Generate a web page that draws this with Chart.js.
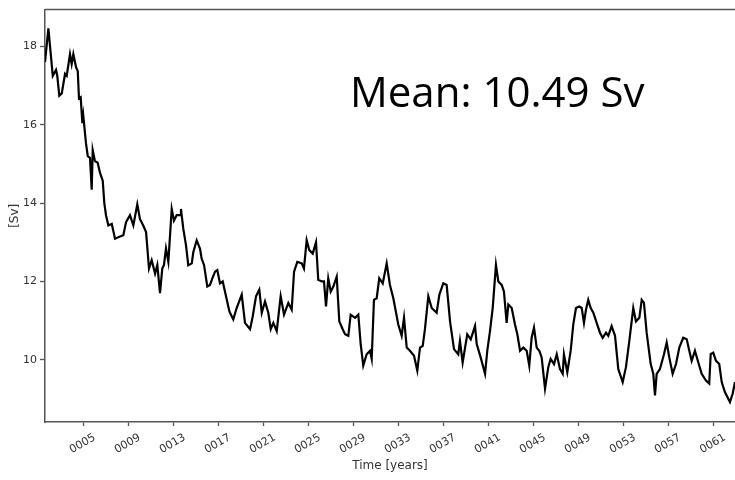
<!DOCTYPE html>
<html>
<head>
<meta charset="utf-8">
<script src="https://cdn.jsdelivr.net/npm/chart.js@4/dist/chart.umd.min.js"></script>
<style>
  html, body { margin: 0; padding: 0; background: #fff; }
  #wrap { position: relative; width: 735px; height: 480px; }
</style>
</head>
<body>
<div id="wrap"><canvas id="c" width="735" height="480"></canvas></div>
<script>
// Transport time series: model year (fractional) and volume transport in Sv
const years = [
  1.56, 1.86, 2.25, 2.54, 2.65, 2.83, 3.05, 3.34, 3.49, 3.78, 3.93, 4.08, 4.32, 4.47, 4.58, 4.73, 4.88, 4.96,
  5.20, 5.36, 5.56, 5.71, 5.80, 6.00, 6.24, 6.45, 6.69, 6.83, 6.98, 7.19, 7.49, 7.78, 8.07, 8.52, 8.76,
  9.11, 9.41, 9.76, 10.00, 10.30, 10.54, 10.80, 11.04, 11.34, 11.54, 11.78, 11.98, 12.13, 12.31, 12.52,
  12.82, 13.02, 13.26, 13.56, 13.64, 13.85, 14.09, 14.29, 14.60, 14.74, 15.04, 15.33, 15.48, 15.69, 15.98,
  16.22, 16.43, 16.67, 16.87, 17.11, 17.35, 17.55, 17.94, 18.00, 18.29, 18.59, 19.04, 19.33, 19.78, 20.02,
  20.31, 20.60, 20.82, 21.11, 21.40, 21.62, 21.85, 22.15, 22.50, 22.80, 23.18, 23.48, 23.69, 23.98, 24.37,
  24.57, 24.81, 25.04, 25.35, 25.64, 25.84, 26.15, 26.35, 26.53, 26.73, 26.95, 27.18, 27.48, 27.71, 28.01,
  28.22, 28.51, 28.72, 29.11, 29.40, 29.61, 29.84, 30.14, 30.44, 30.59, 30.79, 31.03, 31.26, 31.57, 31.92,
  32.21, 32.51, 32.95, 33.25, 33.46, 33.70, 33.99, 34.35, 34.64, 34.88, 35.12, 35.32, 35.62, 35.92, 36.36,
  36.60, 36.95, 37.25, 37.55, 37.90, 38.28, 38.43, 38.67, 39.08, 39.39, 39.77, 39.92, 40.27, 40.66, 40.86,
  41.10, 41.34, 41.63, 41.84, 42.14, 42.34, 42.58, 42.73, 43.03, 43.32, 43.53, 43.77, 44.06, 44.36, 44.59,
  44.80, 45.01, 45.25, 45.48, 45.69, 45.99, 46.28, 46.49, 46.79, 47.03, 47.32, 47.56, 47.67, 47.97, 48.27,
  48.50, 48.74, 49.03, 49.25, 49.45, 49.63, 49.83, 50.05, 50.28, 50.58, 50.87, 51.11, 51.41, 51.61, 51.91,
  52.21, 52.50, 52.89, 53.18, 53.48, 53.83, 54.07, 54.37, 54.58, 54.78, 55.02, 55.38, 55.61, 55.76, 55.91,
  56.20, 56.56, 56.80, 57.03, 57.33, 57.63, 57.92, 58.27, 58.58, 58.81, 59.02, 59.31, 59.61, 59.91, 60.29,
  60.58, 60.71, 60.94, 61.18, 61.47, 61.69, 61.98, 62.42, 62.66, 62.87
];
const transport = [
  17.60, 18.46, 17.25, 17.40, 17.25, 16.74, 16.80, 17.30, 17.25, 17.80, 17.55, 17.80, 17.47, 17.37, 16.67, 16.70, 16.04, 16.24,
  15.53, 15.20, 15.15, 14.34, 15.35, 15.07, 15.03, 14.77, 14.57, 14.00, 13.69, 13.43, 13.47, 13.09, 13.13, 13.18, 13.51,
  13.69, 13.43, 13.97, 13.59, 13.42, 13.26, 12.33, 12.54, 12.20, 12.42, 11.70, 12.33, 12.42, 12.84, 12.50,
  13.85, 13.55, 13.69, 13.69, 13.85, 13.34, 12.92, 12.41, 12.46, 12.75, 13.05, 12.84, 12.58, 12.42, 11.87,
  11.91, 12.08, 12.25, 12.29, 11.95, 12.00, 11.74, 11.24, 11.20, 11.03, 11.32, 11.66, 10.94, 10.78, 11.11,
  11.62, 11.79, 11.20, 11.49, 11.20, 10.78, 10.94, 10.73, 11.62, 11.15, 11.45, 11.28, 12.25, 12.50, 12.46,
  12.33, 13.05, 12.80, 12.71, 13.00, 12.04, 12.00, 12.00, 11.36, 12.08, 11.74, 11.87, 12.12, 10.98, 10.78,
  10.65, 10.61, 11.15, 11.07, 11.15, 10.40, 9.85, 10.14, 10.23, 10.02, 11.53, 11.57, 12.08, 11.95, 12.46,
  11.91, 11.57, 10.90, 10.61, 11.07, 10.31, 10.23, 10.10, 9.72, 10.31, 10.35, 10.78, 11.62, 11.32, 11.20,
  11.66, 11.95, 11.91, 10.98, 10.27, 10.14, 10.48, 9.93, 10.65, 10.52, 10.86, 10.40, 10.06, 9.64, 10.23,
  10.73, 11.32, 12.42, 12.00, 11.91, 11.74, 10.94, 11.41, 11.32, 10.90, 10.65, 10.23, 10.31, 10.23, 9.85,
  10.56, 10.82, 10.31, 10.23, 10.06, 9.26, 9.81, 10.02, 9.89, 10.14, 9.76, 9.64, 10.14, 9.68, 10.23,
  10.90, 11.32, 11.36, 11.32, 10.94, 11.28, 11.53, 11.32, 11.20, 10.94, 10.69, 10.56, 10.69, 10.61, 10.86,
  10.61, 9.76, 9.43, 9.81, 10.48, 11.32, 10.98, 11.07, 11.53, 11.45, 10.69, 9.89, 9.64, 9.09, 9.64,
  9.76, 10.14, 10.44, 10.06, 9.64, 9.89, 10.31, 10.56, 10.52, 10.23, 9.97, 10.23, 9.93, 9.64, 9.47,
  9.39, 10.14, 10.18, 9.97, 9.89, 9.43, 9.17, 8.92, 9.13, 9.43
];
const xTickYears = [5, 9, 13, 17, 21, 25, 29, 33, 37, 41, 45, 49, 53, 57, 61];
const yTickValues = [10, 12, 14, 16, 18];
const meanTransport = 10.49;

const axisGray = '#555555';
const labelGray = '#333333';

// Frame line along the top of the plot area, plus the mean annotation
const framePlugin = {
  id: 'frame',
  afterDraw(chart) {
    const { ctx, chartArea } = chart;
    ctx.save();
    ctx.strokeStyle = axisGray;
    ctx.lineWidth = 1.5;
    ctx.beginPath();
    ctx.moveTo(chartArea.left, chartArea.top);
    ctx.lineTo(chartArea.right, chartArea.top);
    ctx.stroke();

    ctx.fillStyle = '#000';
    ctx.font = '42px "Open Sans"';
    ctx.textAlign = 'left';
    ctx.textBaseline = 'alphabetic';
    ctx.fillText('Mean: ' + meanTransport.toFixed(2) + ' Sv', 350, 107);
    ctx.restore();
  }
};

new Chart(document.getElementById('c'), {
  type: 'line',
  data: {
    datasets: [{
      data: years.map((t, i) => ({ x: t, y: transport[i] })),
      borderColor: '#000000',
      borderWidth: 2.2,
      pointRadius: 0,
      tension: 0,
      fill: false
    }]
  },
  options: {
    responsive: false,
    animation: false,
    devicePixelRatio: 1,
    layout: { padding: { top: 5, right: 0, bottom: 0, left: 0 } },
    plugins: { legend: { display: false }, tooltip: { enabled: false } },
    scales: {
      x: {
        type: 'linear',
        min: 1.56,
        max: 62.87,
        afterBuildTicks: s => { s.ticks = xTickYears.map(v => ({ value: v })); },
        afterFit: s => { s.height = 58; },
        ticks: {
          autoSkip: false,
          minRotation: 30,
          maxRotation: 30,
          labelOffset: 11,
          padding: 5,
          color: labelGray,
          font: { family: 'DejaVu Sans', size: 11 },
          callback: v => String(v).padStart(4, '0')
        },
        grid: { drawOnChartArea: false, drawTicks: true, tickLength: 4, tickColor: axisGray, tickWidth: 1.3 },
        border: { color: axisGray, width: 1.5 },
        title: {
          display: true,
          text: 'Time [years]',
          color: labelGray,
          font: { family: 'DejaVu Sans', size: 12 },
          padding: { top: 0, bottom: 7 }
        }
      },
      y: {
        min: 8.41,
        max: 18.94,
        afterBuildTicks: s => { s.ticks = yTickValues.map(v => ({ value: v })); },
        afterFit: s => { s.width = 45; },
        ticks: {
          padding: 3,
          color: labelGray,
          font: { family: 'DejaVu Sans', size: 11 }
        },
        grid: { drawOnChartArea: false, drawTicks: true, tickLength: 5, tickColor: axisGray, tickWidth: 1.3 },
        border: { color: axisGray, width: 1.5 },
        title: {
          display: true,
          text: '[Sv]',
          color: labelGray,
          font: { family: 'DejaVu Sans', size: 12 },
          padding: { top: 8, bottom: 0 }
        }
      }
    }
  },
  plugins: [framePlugin]
});
</script>
</body>
</html>
